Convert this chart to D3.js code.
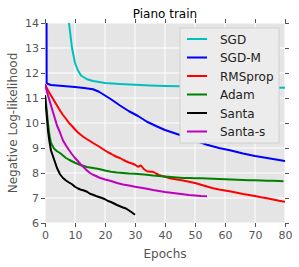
<!DOCTYPE html>
<html>
<head>
<meta charset="utf-8">
<script src="https://cdn.jsdelivr.net/npm/d3@7"></script>
<style>
  body { margin: 0; background: #fff; }
  text { font-family: "DejaVu Sans", sans-serif; }
</style>
</head>
<body>
<svg id="chart" width="299" height="267"></svg>
<script>
var xTicks = [0, 10, 20, 30, 40, 50, 60, 70, 80];
var yTicks = [6, 7, 8, 9, 10, 11, 12, 13, 14];

var seriesNames = ["SGD", "SGD-M", "RMSprop", "Adam", "Santa", "Santa-s"];
var seriesColors = ["#00bfbf", "#0000ff", "#ff0000", "#008000", "#000000", "#bf00bf"];

// [epoch, neg log-likelihood]
var sgd = [[7,16],[8,14],[9,13.0],[10,12.4],[11,12.1],[12,11.9],[14,11.75],[16,11.68],[20,11.6],[25,11.56],[30,11.53],[35,11.5],[40,11.48],[50,11.46],[60,11.45],[70,11.43],[80,11.41]];
var sgdm = [[0.5,16],[0.55,11.6],[1,11.56],[2,11.52],[4,11.5],[7,11.47],[10,11.44],[13,11.4],[16,11.35],[18,11.25],[20,11.1],[22,10.95],[25,10.7],[28,10.47],[31,10.28],[34,10.05],[37,9.88],[40,9.72],[43,9.6],[46,9.48],[50,9.3],[54,9.13],[58,9.0],[62,8.9],[66,8.78],[70,8.68],[74,8.6],[77,8.54],[80,8.48]];
var rmsprop = [[0,11.55],[1,11.3],[2,11.1],[3,10.9],[4,10.7],[5,10.5],[6,10.32],[7,10.17],[8,10.0],[9,9.88],[10,9.74],[11,9.62],[12,9.52],[13,9.43],[14,9.35],[15,9.28],[16,9.2],[17,9.13],[18,9.06],[19,8.98],[20,8.9],[21,8.83],[22,8.77],[23,8.7],[24,8.64],[25,8.6],[26,8.53],[27,8.47],[28,8.42],[29,8.38],[30,8.33],[31,8.25],[32,8.3],[33,8.15],[34,8.07],[35,8.05],[36,8.05],[37,7.98],[38,7.92],[39,7.88],[40,7.85],[42,7.78],[44,7.74],[46,7.7],[48,7.65],[50,7.6],[52,7.53],[54,7.46],[56,7.39],[58,7.34],[60,7.3],[62,7.26],[64,7.21],[66,7.16],[68,7.12],[70,7.08],[72,7.03],[74,6.99],[76,6.94],[78,6.89],[80,6.85]];
var adam = [[0,11.12],[0.5,10.6],[1,10.0],[1.5,9.5],[2,9.2],[3,8.98],[4,8.87],[5,8.8],[6,8.7],[7,8.6],[8,8.53],[9,8.47],[10,8.41],[11,8.36],[12,8.31],[13,8.28],[14,8.24],[16,8.2],[18,8.16],[20,8.1],[22,8.05],[24,8.02],[26,8.0],[28,7.98],[30,7.97],[32,7.95],[34,7.93],[36,7.9],[38,7.88],[40,7.86],[42,7.84],[44,7.82],[46,7.8],[48,7.8],[50,7.79],[52,7.79],[54,7.78],[56,7.77],[58,7.76],[60,7.75],[62,7.74],[64,7.73],[66,7.72],[68,7.71],[70,7.71],[72,7.7],[74,7.69],[76,7.69],[78,7.68],[79.5,7.67]];
var santa = [[0,11.1],[0.5,10.4],[1,9.7],[1.5,9.25],[2,8.9],[3,8.55],[4,8.2],[5,7.95],[6,7.8],[7,7.7],[8,7.62],[9,7.55],[10,7.45],[11,7.38],[12,7.33],[13,7.3],[14,7.25],[15,7.17],[16,7.13],[17,7.08],[18,7.04],[19,7.0],[20,6.95],[21,6.88],[22,6.84],[23,6.78],[24,6.72],[25,6.67],[26,6.62],[27,6.58],[28,6.5],[29,6.42],[30,6.33]];
var santas = [[0,11.55],[1,11.1],[2,10.7],[3,10.3],[4,9.9],[5,9.62],[6,9.3],[7,9.1],[8,8.92],[9,8.75],[10,8.6],[11,8.47],[12,8.33],[13,8.22],[14,8.1],[15,8.0],[16,7.93],[17,7.88],[18,7.82],[19,7.78],[20,7.74],[22,7.68],[24,7.6],[26,7.54],[28,7.5],[30,7.45],[32,7.41],[34,7.37],[36,7.32],[38,7.28],[40,7.24],[42,7.21],[44,7.18],[46,7.15],[48,7.12],[50,7.1],[52,7.08],[54,7.07]];

var allSeries = [sgd, sgdm, rmsprop, adam, santa, santas];

var margin = {top: 23, right: 14, bottom: 44, left: 45};
var width = 299 - margin.left - margin.right;
var height = 267 - margin.top - margin.bottom;

var svg = d3.select("#chart");
var g = svg.append("g").attr("transform", "translate(" + margin.left + "," + margin.top + ")");

var x = d3.scaleLinear().domain([0, 80]).range([0, width]);
var y = d3.scaleLinear().domain([6, 14]).range([height, 0]);

g.append("rect").attr("width", width).attr("height", height).attr("fill", "#e5e5e5");

// grid
g.selectAll(".gx").data(xTicks).enter().append("line")
  .attr("x1", function(d) { return x(d); }).attr("x2", function(d) { return x(d); })
  .attr("y1", 0).attr("y2", height)
  .attr("stroke", "#fff").attr("stroke-width", 1);
g.selectAll(".gy").data(yTicks).enter().append("line")
  .attr("y1", function(d) { return y(d); }).attr("y2", function(d) { return y(d); })
  .attr("x1", 0).attr("x2", width)
  .attr("stroke", "#fff").attr("stroke-width", 1);

// axes
function styleAxis(sel, labels) {
  sel.select(".domain").remove();
  sel.selectAll(".tick line").attr("stroke", "#555");
  sel.selectAll(".tick text").attr("fill", "#555").style("font-size", "11px")
    .style("font-family", "DejaVu Sans, sans-serif");
  if (!labels) sel.selectAll(".tick text").remove();
}
g.append("g").attr("transform", "translate(0," + height + ")")
  .call(d3.axisBottom(x).tickValues(xTicks).tickSize(4).tickPadding(4))
  .call(function(s) { styleAxis(s, true); });
g.append("g")
  .call(d3.axisTop(x).tickValues(xTicks).tickSize(4))
  .call(function(s) { styleAxis(s, false); });
g.append("g")
  .call(d3.axisLeft(y).tickValues(yTicks).tickSize(4).tickPadding(2))
  .call(function(s) { styleAxis(s, true); });
g.append("g").attr("transform", "translate(" + width + ",0)")
  .call(d3.axisRight(y).tickValues(yTicks).tickSize(4))
  .call(function(s) { styleAxis(s, false); });

// lines
g.append("clipPath").attr("id", "clip").append("rect")
  .attr("width", width).attr("height", height);

var line = d3.line()
  .x(function(d) { return x(d[0]); })
  .y(function(d) { return y(d[1]); });

g.append("g").attr("clip-path", "url(#clip)")
  .selectAll("path").data(allSeries).enter().append("path")
  .attr("d", line)
  .attr("fill", "none")
  .attr("stroke", function(d, i) { return seriesColors[i]; })
  .attr("stroke-width", 2)
  .attr("stroke-linejoin", "round");

// legend
var lg = g.append("g").attr("transform", "translate(" + (x(45)) + "," + (y(13.8)) + ")");
lg.append("rect").attr("x", 0).attr("y", 0).attr("width", 99).attr("height", 115)
  .attr("fill", "#ececec").attr("stroke", "#d0d0d0").attr("stroke-width", 1);
var item = lg.selectAll(".item").data(seriesNames).enter().append("g")
  .attr("transform", function(d, i) { return "translate(0," + (11 + i * 18.5) + ")"; });
item.append("line").attr("x1", 7).attr("x2", 27).attr("y1", 0).attr("y2", 0)
  .attr("stroke", function(d, i) { return seriesColors[i]; }).attr("stroke-width", 2);
item.append("text").attr("x", 40).attr("y", 4.5).text(function(d) { return d; })
  .style("font-size", "12px").attr("fill", "#222");

// titles
svg.append("text").attr("x", margin.left + width / 2).attr("y", 18)
  .attr("text-anchor", "middle").style("font-size", "12px").attr("fill", "#000")
  .text("Piano train");
svg.append("text").attr("x", margin.left + width / 2).attr("y", 258)
  .attr("text-anchor", "middle").style("font-size", "12px").attr("fill", "#555")
  .text("Epochs");
svg.append("text")
  .attr("transform", "translate(17," + (margin.top + height / 2) + ") rotate(-90)")
  .attr("text-anchor", "middle").style("font-size", "12px").attr("fill", "#555")
  .text("Negative Log-likelihood");
</script>
</body>
</html>
